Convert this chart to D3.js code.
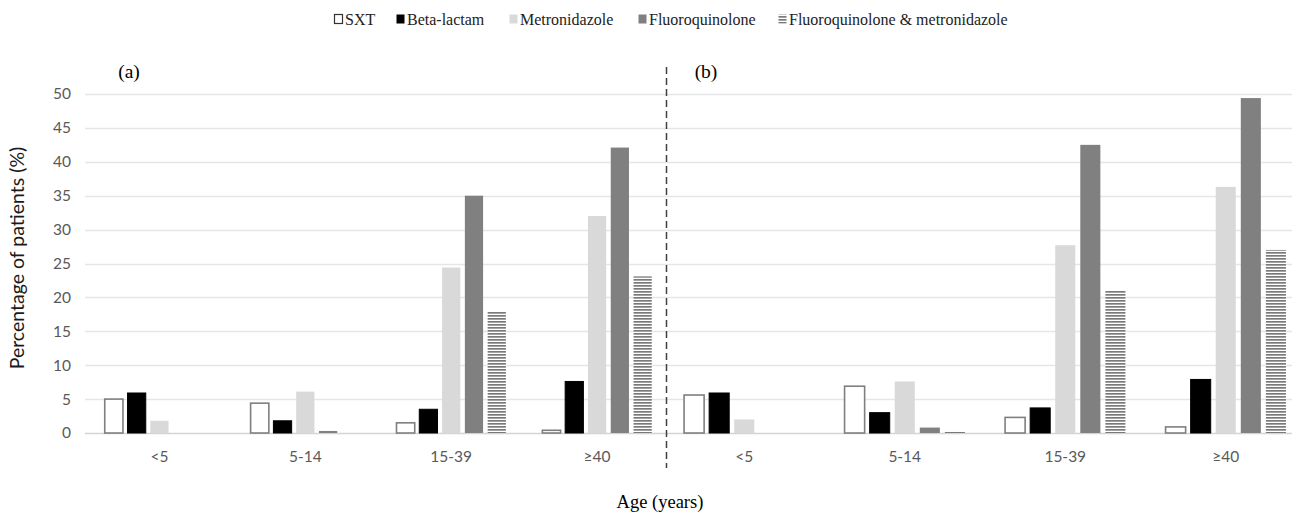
<!DOCTYPE html>
<html>
<head>
<meta charset="utf-8">
<script src="https://cdn.jsdelivr.net/npm/d3@7"></script>
<style>
  body { margin: 0; background: #fff; }
  svg { display: block; }
</style>
</head>
<body>
<div id="chart"></div>
<script>
// categories and series
const categories = ["<5", "5-14", "15-39", "\u226540"];
const seriesNames = ["SXT", "Beta-lactam", "Metronidazole", "Fluoroquinolone", "Fluoroquinolone & metronidazole"];
const yTicks = [0, 5, 10, 15, 20, 25, 30, 35, 40, 45, 50];

// panel (a) values, one array per series
const sxtA = [5.0, 4.4, 1.5, 0.4];
const betaA = [5.9, 1.8, 3.5, 7.6];
const metroA = [1.8, 6.1, 24.4, 32.0];
const fluoroA = [0, 0.3, 35.0, 42.1];
const fqMetroA = [0, 0, 17.9, 23.1];

// panel (b) values
const sxtB = [5.6, 6.9, 2.3, 0.9];
const betaB = [5.9, 3.0, 3.7, 7.9];
const metroB = [2.0, 7.6, 27.7, 36.3];
const fluoroB = [0, 0.8, 42.5, 49.4];
const fqMetroB = [0, 0.3, 21.0, 27.0];

const width = 1305, height = 513;

const svg = d3.select("#chart")
  .append("svg")
  .attr("width", width)
  .attr("height", height);

// striped fill for the combination series
const defs = svg.append("defs");
const pat = defs.append("pattern")
  .attr("id", "stripes")
  .attr("patternUnits", "userSpaceOnUse")
  .attr("width", 8)
  .attr("height", 3);
pat.append("rect").attr("width", 8).attr("height", 3).attr("fill", "#fff");
pat.append("rect").attr("y", 0).attr("width", 8).attr("height", 1.7).attr("fill", "#7a7a7a");

const y = d3.scaleLinear()
  .domain([0, 50])
  .range([433, 94]);

// grid lines
svg.append("g")
  .selectAll("line")
  .data(yTicks)
  .join("line")
  .attr("x1", 85)
  .attr("x2", 1292)
  .attr("y1", d => Math.round(y(d)) + 0.5)
  .attr("y2", d => Math.round(y(d)) + 0.5)
  .attr("stroke", d => d === 0 ? "#d4d4d4" : "#e6e6e6")
  .attr("stroke-width", 1.3);

// y axis labels
svg.append("g")
  .selectAll("text")
  .data(yTicks)
  .join("text")
  .attr("x", 71)
  .attr("y", d => y(d))
  .attr("dy", "0.35em")
  .attr("text-anchor", "end")
  .attr("font-family", "Lato, 'Open Sans', sans-serif")
  .attr("font-size", 15.5)
  .attr("fill", "#595959")
  .text(d => d);

svg.append("text")
  .attr("transform", "translate(24,258) rotate(-90)")
  .attr("text-anchor", "middle")
  .attr("font-family", "Lato, 'Open Sans', sans-serif")
  .attr("font-size", 19.5)
  .attr("fill", "#1a1a1a")
  .text("Percentage of patients (%)");

const fills = ["#ffffff", "#000000", "#d9d9d9", "#808080", "url(#stripes)"];
const strokes = ["#7f7f7f", "#000000", "none", "none", "none"];

function drawPanel(values, range, tag, tagX) {
  const x0 = d3.scaleBand()
    .domain(categories)
    .range(range)
    .padding(0);
  const groupW = x0.bandwidth() * 0.75;
  const x1 = d3.scaleBand()
    .domain(seriesNames)
    .range([0, groupW])
    .paddingInner(0.2);

  const rows = [];
  seriesNames.forEach((s, si) => {
    values[si].forEach((v, ci) => {
      if (v > 0) rows.push({ s: s, si: si, cat: categories[ci], v: v });
    });
  });

  const g = svg.append("g");
  g.selectAll("rect")
    .data(rows)
    .join("rect")
    .attr("x", d => x0(d.cat) + (x0.bandwidth() - groupW) / 2 + x1(d.s))
    .attr("width", x1.bandwidth())
    .attr("y", d => y(d.v))
    .attr("height", d => y(0) - y(d.v))
    .attr("fill", d => fills[d.si])
    .attr("stroke", d => strokes[d.si])
    .attr("stroke-width", d => d.si === 0 ? 1.6 : 1);

  g.selectAll(".cat")
    .data(categories)
    .join("text")
    .attr("class", "cat")
    .attr("x", d => x0(d) + x0.bandwidth() / 2)
    .attr("y", 462)
    .attr("text-anchor", "middle")
    .attr("font-family", "Lato, 'Open Sans', sans-serif")
    .attr("font-size", 15.5)
    .attr("fill", "#595959")
    .text(d => d);

  svg.append("text")
    .attr("x", tagX)
    .attr("y", 78)
    .attr("text-anchor", "middle")
    .attr("font-family", "'Liberation Serif', 'Times New Roman', serif")
    .attr("font-size", 19.5)
    .attr("fill", "#000")
    .text(tag);
}

drawPanel([sxtA, betaA, metroA, fluoroA, fqMetroA], [86.5, 670], "(a)", 129);
drawPanel([sxtB, betaB, metroB, fluoroB, fqMetroB], [664, 1306], "(b)", 706);

// dashed separator
svg.append("line")
  .attr("x1", 666.5).attr("x2", 666.5)
  .attr("y1", 67).attr("y2", 468)
  .attr("stroke", "#404040")
  .attr("stroke-width", 1.5)
  .attr("stroke-dasharray", "7,4");

// x axis title
svg.append("text")
  .attr("x", 660)
  .attr("y", 508)
  .attr("text-anchor", "middle")
  .attr("font-family", "'Liberation Serif', 'Times New Roman', serif")
  .attr("font-size", 18.5)
  .attr("fill", "#000")
  .text("Age (years)");

// legend
const legendX = [334, 396, 509, 638, 778];
const legend = svg.append("g")
  .selectAll("g")
  .data(seriesNames)
  .join("g")
  .attr("transform", (d, i) => "translate(" + legendX[i] + ",19)");

legend.append("rect")
  .attr("x", 0.5)
  .attr("y", -4.5)
  .attr("width", 8)
  .attr("height", 9)
  .attr("fill", (d, i) => fills[i])
  .attr("stroke", (d, i) => i === 0 ? "#333" : "none")
  .attr("stroke-width", 1.2);

legend.append("text")
  .attr("x", 11)
  .attr("y", 0)
  .attr("dy", "0.35em")
  .attr("font-family", "'Liberation Serif', 'Times New Roman', serif")
  .attr("font-size", 16)
  .attr("fill", "#222")
  .text(d => d);
</script>
</body>
</html>
